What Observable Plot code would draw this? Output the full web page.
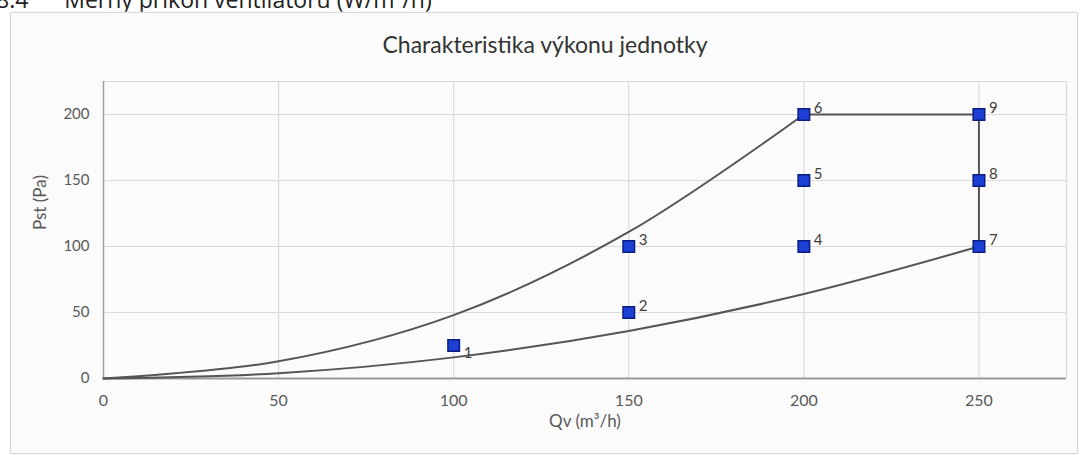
<!DOCTYPE html>
<html>
<head>
<meta charset="utf-8">
<script src="https://cdn.jsdelivr.net/npm/d3@7"></script>
<script src="https://cdn.jsdelivr.net/npm/@observablehq/plot@0.6"></script>
<style>
  html, body { margin: 0; padding: 0; background: #ffffff; }
  body { width: 1086px; height: 455px; position: relative; overflow: hidden; font-family: Lato, "Open Sans", sans-serif; }
  #heading { position: absolute; left: -4px; top: -17px; font-size: 23px; color: #222; white-space: pre; font-family: "Open Sans", sans-serif; }
  #frame { position: absolute; left: 10px; top: 12px; width: 1066px; height: 440px; border: 1px solid #d9d9d9; background: #fbfbfb; box-shadow: 0 0 2px #e6e6e6; }
  #title { position: absolute; left: 0; width: 1090px; top: 30px; text-align: center; font-size: 23px; color: #333; }
  #chart { position: absolute; left: 0; top: 0; }
</style>
</head>
<body>
<div id="heading">8.4      Měrný příkon ventilátoru (W/m³/h)</div>
<div id="frame"></div>
<div id="title">Charakteristika výkonu jednotky</div>
<div id="chart"></div>
<script>
// Measured points (Qv m3/h, Pst Pa)
const pointQv = [100, 150, 150, 200, 200, 200, 250, 250, 250];
const pointPst = [25, 50, 100, 100, 150, 200, 100, 150, 200];
const pointLabel = ["1", "2", "3", "4", "5", "6", "7", "8", "9"];

// Upper characteristic curve
const upperQv = [0, 50, 100, 150, 200];
const upperPst = [0, 13, 48, 111, 200];

// Upper-right boundary (max pressure, max flow)
const boxQv = [200, 250, 250];
const boxPst = [200, 200, 100];

// Lower characteristic curve
const lowerQv = [0, 50, 100, 150, 200, 250];
const lowerPst = [0, 4, 16, 36, 64, 100];

const xTicks = [0, 50, 100, 150, 200, 250];
const yTicks = [0, 50, 100, 150, 200];
const xGrid = [50, 100, 150, 200, 250, 275];
const yGrid = [50, 100, 150, 200, 225];

const points = pointQv.map((q, i) => ({q, p: pointPst[i], label: pointLabel[i]}));
const upper = upperQv.map((q, i) => ({q, p: upperPst[i]}));
const box = boxQv.map((q, i) => ({q, p: boxPst[i]}));
const lower = lowerQv.map((q, i) => ({q, p: lowerPst[i]}));

const chart = Plot.plot({
  width: 1086,
  height: 455,
  marginLeft: 103,
  marginRight: 20,
  marginTop: 81,
  marginBottom: 77,
  style: { background: "transparent", fontFamily: "Lato, 'Open Sans', sans-serif", fontSize: "15px", color: "#595959", overflow: "visible" },
  x: { domain: [0, 275], ticks: xTicks, tickSize: 0, tickPadding: 16, label: null },
  y: { domain: [0, 225], ticks: yTicks, tickSize: 0, tickPadding: 14, label: null },
  marks: [
    Plot.ruleX(xGrid, { stroke: "#dadada", strokeWidth: 1.2 }),
    Plot.ruleY(yGrid, { stroke: "#dadada", strokeWidth: 1.2 }),
    Plot.ruleX([0], { stroke: "#a0a0a0", strokeWidth: 1.5 }),
    Plot.ruleY([0], { stroke: "#9a9a9a", strokeWidth: 2 }),
    Plot.axisX({ ticks: xTicks, tickSize: 0, tickPadding: 16, fontSize: 16, fill: "#595959" }),
    Plot.axisY({ ticks: yTicks, tickSize: 0, tickPadding: 14, fontSize: 15, fill: "#595959" }),
    Plot.line(upper, { x: "q", y: "p", curve: "catmull-rom", stroke: "#555", strokeWidth: 2 }),
    Plot.line(box, { x: "q", y: "p", stroke: "#555", strokeWidth: 2 }),
    Plot.line(lower, { x: "q", y: "p", curve: "catmull-rom", stroke: "#555", strokeWidth: 2 }),
    Plot.dot(points, { x: "q", y: "p", symbol: "square", r: 6.5, fill: "#1c3fd6", stroke: "#0a1d80", strokeWidth: 1.5 }),
    Plot.text(points.filter(d => d.label !== "1"), { x: "q", y: "p", text: "label", dx: 10, dy: -6, textAnchor: "start", fontSize: 15, fill: "#404040" }),
    Plot.text(points.filter(d => d.label === "1"), { x: "q", y: "p", text: "label", dx: 10, dy: 8, textAnchor: "start", fontSize: 15, fill: "#404040" }),
    Plot.text(["Qv (m³/h)"], { frameAnchor: "bottom", dy: 48, fontSize: 17, fill: "#595959" }),
    Plot.text(["Pst (Pa)"], { frameAnchor: "left", dx: -63, rotate: -90, fontSize: 17, fill: "#595959" })
  ]
});
document.getElementById("chart").appendChild(chart);
</script>
</body>
</html>
